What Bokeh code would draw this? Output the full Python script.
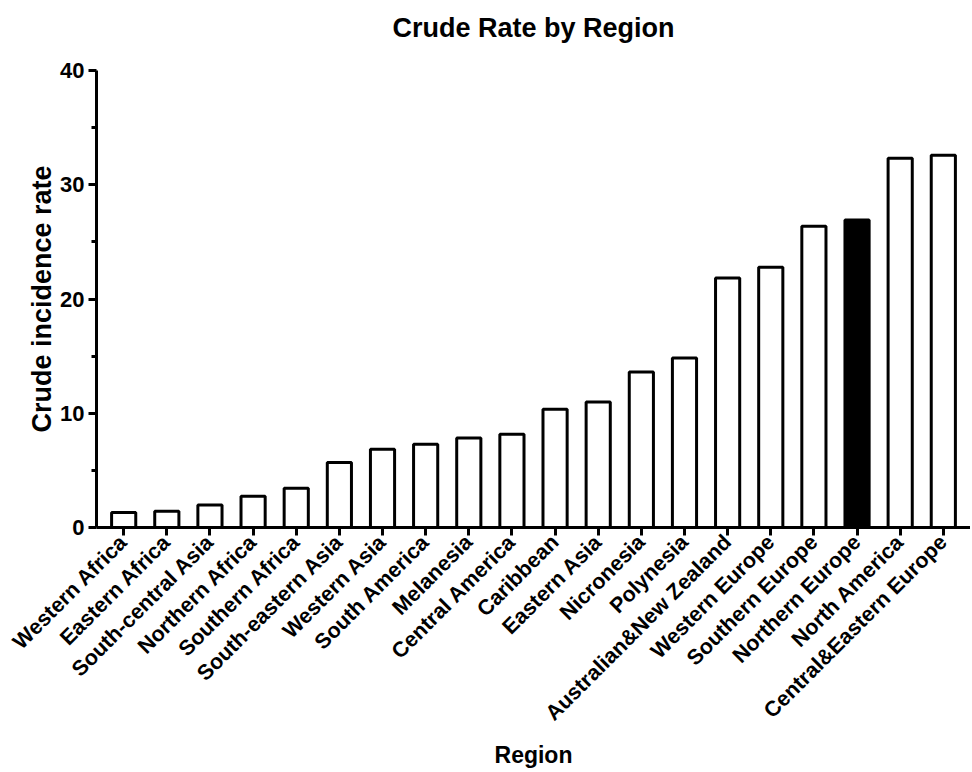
import math
from bokeh.plotting import figure
from bokeh.models import (FactorRange, Range1d, ColumnDataSource, FixedTicker,
                          CategoricalAxis)
from bokeh.embed import file_html
from bokeh.resources import INLINE

regions = ["Western Africa", "Eastern Africa", "South-central Asia", "Northern Africa",
           "Southern Africa", "South-eastern Asia", "Western Asia", "South America",
           "Melanesia", "Central America", "Caribbean", "Eastern Asia", "Nicronesia",
           "Polynesia", "Australian&New Zealand", "Western Europe", "Southern Europe",
           "Northern Europe", "North America", "Central&Eastern Europe"]
rates = [1.31, 1.42, 1.97, 2.73, 3.43, 5.70, 6.84, 7.28, 7.83, 8.16,
         10.35, 10.98, 13.61, 14.84, 21.84, 22.77, 26.36, 26.91, 32.32, 32.58]
highlight = "Northern Europe"
y_ticks = [0, 10, 20, 30, 40]
y_minor = [5, 15, 25, 35]
title_text = "Crude Rate by Region"

fills = ["black" if r == highlight else "white" for r in regions]
src = ColumnDataSource(dict(region=regions, rate=rates, fill=fills))

FONT = "Liberation Sans"

p = figure(x_range=FactorRange(*regions, range_padding=0.13, range_padding_units="absolute"),
           y_range=Range1d(0, 40),
           width=970, height=772,
           min_border_left=96, min_border_right=0, min_border_top=70, min_border_bottom=245,
           output_backend="svg", toolbar_location=None)

p.vbar(x="region", top="rate", width=0.56, source=src,
       fill_color="fill", line_color="black", line_width=3)

# chart title: label of a tickless, lineless, label-less axis above the plotting area
tax = CategoricalAxis(axis_line_color=None, major_tick_line_color=None,
                      minor_tick_line_color=None, major_label_standoff=0,
                      major_tick_out=0, major_tick_in=0,
                      major_label_overrides={r: "" for r in regions},
                      major_label_text_font_size="1px",
                      major_label_text_color=None, major_label_text_alpha=0,
                      axis_label=title_text, axis_label_standoff=28,
                      axis_label_text_font=FONT, axis_label_text_font_size="27px",
                      axis_label_text_font_style="bold", axis_label_text_color="black")
p.add_layout(tax, "above")

p.xgrid.visible = False
p.ygrid.visible = False
p.outline_line_color = None

xax = p.below[0]
yax = p.left[0]
for ax in (xax, yax):
    ax.axis_line_width = 3
    ax.axis_line_color = "black"
    ax.major_tick_line_width = 3
    ax.major_tick_line_color = "black"
    ax.major_tick_in = 0
    ax.major_tick_out = 8
    ax.major_label_text_font = FONT
    ax.major_label_text_font_style = "bold"
    ax.major_label_text_font_size = "21.5px"
    ax.major_label_text_color = "black"
    ax.axis_label_text_font = FONT
    ax.axis_label_text_font_style = "bold"
    ax.axis_label_text_color = "black"

yax.ticker = FixedTicker(ticks=y_ticks, minor_ticks=y_minor)
yax.minor_tick_in = 0
yax.minor_tick_out = 5
yax.minor_tick_line_width = 3
yax.minor_tick_line_color = "black"
yax.major_label_standoff = 4
yax.major_label_text_font_size = "22px"
yax.axis_label = "Crude incidence rate"
yax.axis_label_text_font_size = "27px"
yax.axis_label_standoff = 0

xax.major_label_orientation = math.pi / 4
xax.major_label_standoff = 3
xax.axis_label = "Region"
xax.axis_label_text_font_size = "23px"
xax.axis_label_standoff = 5

open("out.html", "w").write(file_html(p, INLINE))
